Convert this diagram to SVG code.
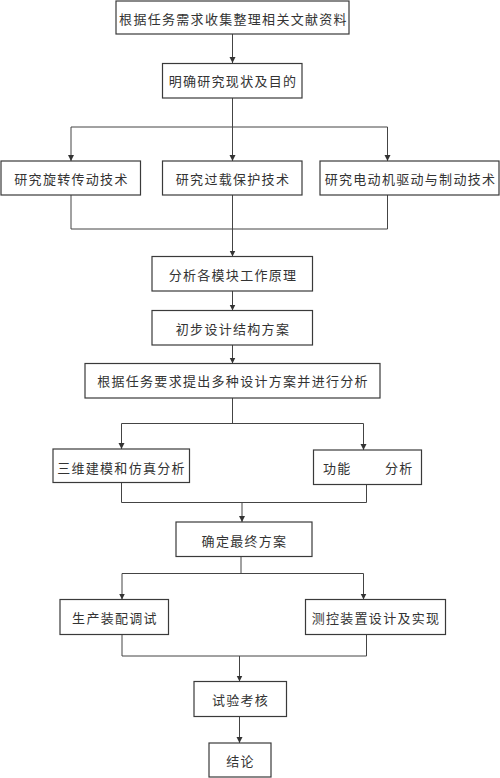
<svg xmlns="http://www.w3.org/2000/svg" width="500" height="778" viewBox="0 0 500 778">
<style>
.box{fill:#fff;stroke:#3a3a3a;stroke-width:1.2}
.t{font-family:"Noto Sans CJK SC","Noto Sans CJK JP",sans-serif;font-size:13px;fill:#333;letter-spacing:1.3px;text-anchor:middle;dominant-baseline:central}
.c{fill:none;stroke:#444;stroke-width:1}
</style>
<defs>
<marker id="ah" markerUnits="userSpaceOnUse" markerWidth="8" markerHeight="8" refX="6" refY="3" orient="auto">
<path d="M0,0 L6,3 L0,6 Z" fill="#333"/>
</marker>
</defs>
<rect width="500" height="778" fill="#fff"/>
<g id="connectors">
<line class="c" x1="232.5" y1="34" x2="232.5" y2="63" marker-end="url(#ah)"/>
<polyline class="c" points="232.5,98 232.5,127"/>
<polyline class="c" points="71,127 387.5,127"/>
<line class="c" x1="71" y1="127" x2="71" y2="161" marker-end="url(#ah)"/>
<line class="c" x1="232.5" y1="127" x2="232.5" y2="161" marker-end="url(#ah)"/>
<line class="c" x1="387.5" y1="127" x2="387.5" y2="161" marker-end="url(#ah)"/>
<polyline class="c" points="71,195 71,229 387.5,229 387.5,195"/>
<line class="c" x1="232.5" y1="195" x2="232.5" y2="229"/>
<line class="c" x1="232.5" y1="229" x2="232.5" y2="256.5" marker-end="url(#ah)"/>
<line class="c" x1="232.5" y1="291" x2="232.5" y2="310.5" marker-end="url(#ah)"/>
<line class="c" x1="232.5" y1="345" x2="232.5" y2="363.5" marker-end="url(#ah)"/>
<polyline class="c" points="232.5,398 232.5,423.5"/>
<polyline class="c" points="121.5,423.5 363.5,423.5"/>
<line class="c" x1="121.5" y1="423.5" x2="121.5" y2="449" marker-end="url(#ah)"/>
<line class="c" x1="363.5" y1="423.5" x2="363.5" y2="450" marker-end="url(#ah)"/>
<polyline class="c" points="121.5,482.5 121.5,502.5 366.5,502.5 366.5,484.5"/>
<line class="c" x1="242" y1="502.5" x2="242" y2="522" marker-end="url(#ah)"/>
<polyline class="c" points="241,556.5 241,573.5"/>
<polyline class="c" points="122,573.5 363.5,573.5"/>
<line class="c" x1="122" y1="573.5" x2="122" y2="599.5" marker-end="url(#ah)"/>
<line class="c" x1="363.5" y1="573.5" x2="363.5" y2="599.5" marker-end="url(#ah)"/>
<polyline class="c" points="122,634.5 122,656 366.5,656 366.5,634.5"/>
<line class="c" x1="239.5" y1="656" x2="239.5" y2="681.5" marker-end="url(#ah)"/>
<line class="c" x1="239.5" y1="716.5" x2="239.5" y2="743" marker-end="url(#ah)"/>
</g>
<g id="n1"><rect class="box" x="116" y="1" width="233" height="33"/><text class="t" x="233.5" y="18">根据任务需求收集整理相关文献资料</text></g>
<g id="n2"><rect class="box" x="162.5" y="63.5" width="139.5" height="34.5"/><text class="t" x="233" y="80.5">明确研究现状及目的</text></g>
<g id="n3a"><rect class="box" x="1" y="161" width="139.5" height="34"/><text class="t" x="71.5" y="178">研究旋转传动技术</text></g>
<g id="n3b"><rect class="box" x="162.5" y="161" width="139.5" height="34"/><text class="t" x="233" y="178">研究过载保护技术</text></g>
<g id="n3c"><rect class="box" x="320" y="161" width="179" height="34"/><text class="t" x="410.5" y="178">研究电动机驱动与制动技术</text></g>
<g id="n4"><rect class="box" x="152" y="256.5" width="160.5" height="34.5"/><text class="t" x="233" y="274">分析各模块工作原理</text></g>
<g id="n5"><rect class="box" x="152" y="310.5" width="160.5" height="34.5"/><text class="t" x="233" y="328">初步设计结构方案</text></g>
<g id="n6"><rect class="box" x="85" y="363.5" width="295" height="34.5"/><text class="t" x="233" y="380.5">根据任务要求提出多种设计方案并进行分析</text></g>
<g id="n7a"><rect class="box" x="53" y="449" width="136.5" height="33.5"/><text class="t" x="121.5" y="467">三维建模和仿真分析</text></g>
<g id="n7b"><rect class="box" x="313.5" y="450" width="108" height="34.5"/><text class="t" y="467" style="text-anchor:start"><tspan x="323">功能</tspan><tspan x="385">分析</tspan></text></g>
<g id="n8"><rect class="box" x="176" y="522" width="136" height="34.5"/><text class="t" x="244.5" y="540">确定最终方案</text></g>
<g id="n9a"><rect class="box" x="60" y="599.5" width="108.5" height="35"/><text class="t" x="115" y="617">生产装配调试</text></g>
<g id="n9b"><rect class="box" x="305.5" y="599.5" width="140" height="35"/><text class="t" x="376" y="617">测控装置设计及实现</text></g>
<g id="n10"><rect class="box" x="194" y="681.5" width="92.5" height="35"/><text class="t" x="240.5" y="699">试验考核</text></g>
<g id="n11"><rect class="box" x="209" y="743" width="62" height="34"/><text class="t" x="240.5" y="760.5">结论</text></g>
</svg>
